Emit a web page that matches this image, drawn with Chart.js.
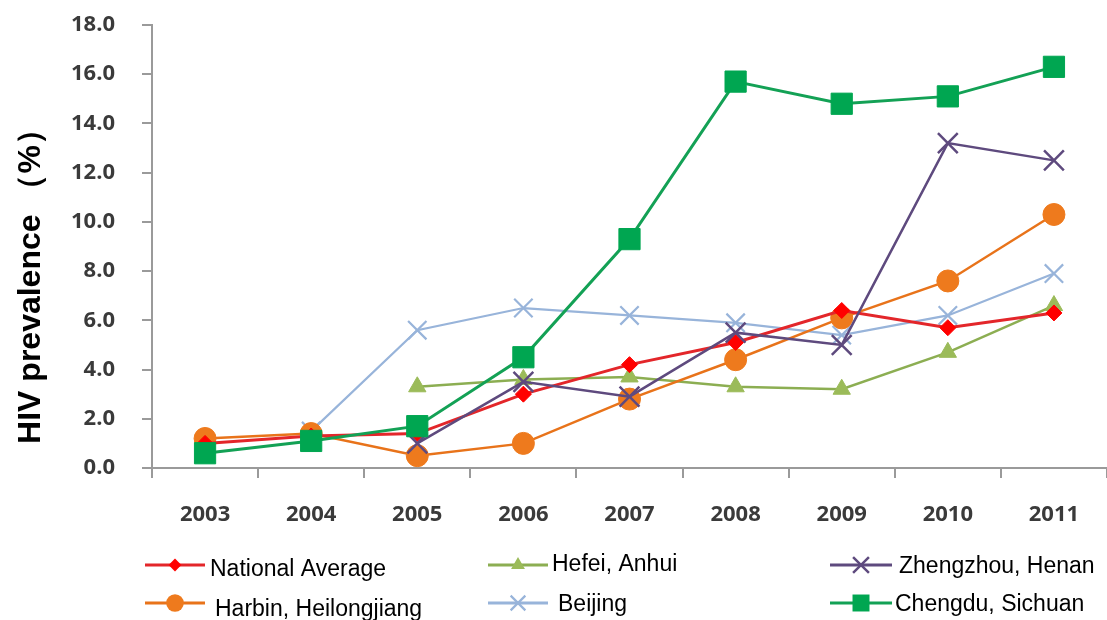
<!DOCTYPE html>
<html>
<head>
<meta charset="utf-8">
<script src="https://cdn.jsdelivr.net/npm/chart.js@4/dist/chart.umd.min.js"></script>
<style>
  html, body { margin: 0; padding: 0; background: #fff; }
  #wrap { width: 1107px; height: 620px; position: relative; }
</style>
</head>
<body>
<div id="wrap"><canvas id="grafico"></canvas></div>
<script>
// datos
var years = ['2003', '2004', '2005', '2006', '2007', '2008', '2009', '2010', '2011'];
var seriesNames = ['National Average', 'Harbin, Heilongjiang', 'Hefei, Anhui', 'Beijing', 'Zhengzhou, Henan', 'Chengdu, Sichuan'];
var nationalAverage = [1.0, 1.3, 1.4, 3.0, 4.2, 5.1, 6.4, 5.7, 6.3];
var harbin = [1.2, 1.4, 0.5, 1.0, 2.8, 4.4, 6.1, 7.6, 10.3];
var hefei = [null, null, 3.3, 3.6, 3.7, 3.3, 3.2, 4.7, 6.6];
var beijing = [null, 1.5, 5.6, 6.5, 6.2, 5.9, 5.4, 6.2, 7.9];
var zhengzhou = [null, null, 1.0, 3.5, 2.9, 5.5, 5.0, 13.2, 12.5];
var chengdu = [0.6, 1.1, 1.7, 4.5, 9.3, 15.7, 14.8, 15.1, 16.3];
var yTicks = [0, 2, 4, 6, 8, 10, 12, 14, 16, 18];

// estilos de cada serie
var estilos = [
    { line: '#E3262A', fill: '#FF0000', shape: 'diamond', r: 8, lw: 3 },
    { line: '#E8731A', fill: '#EE7A1D', shape: 'circle', r: 11, lw: 2.5 },
    { line: '#8CAE52', fill: '#9BBB59', shape: 'triangle', r: 10, lw: 2.5 },
    { line: '#98B4DA', fill: '#98B4DA', shape: 'x', r: 13, lw: 2.2 },
    { line: '#5E4A7E', fill: '#5E4A7E', shape: 'x', r: 14, lw: 2.5 },
    { line: '#13A155', fill: '#00A651', shape: 'square', r: 15, lw: 3 }
];
var pointStyles = { diamond: 'rectRot', circle: 'circle', triangle: 'triangle', x: 'crossRot', square: 'rect' };
var valores = [nationalAverage, harbin, hefei, beijing, zhengzhou, chengdu];
var ordenDibujo = [2, 3, 4, 5, 1, 0];

// posiciones de la leyenda (dos filas, tres columnas)
var leyenda = [
    { x0: 145, x1: 205, y: 565, tx: 210, ty: 570 },
    { x0: 145, x1: 205, y: 603, tx: 215, ty: 610 },
    { x0: 488, x1: 548, y: 565, tx: 552, ty: 565 },
    { x0: 488, x1: 548, y: 603, tx: 558, ty: 605 },
    { x0: 830, x1: 892, y: 565, tx: 899, ty: 567 },
    { x0: 830, x1: 892, y: 603, tx: 895, ty: 605 }
];

function dibujarMarcador(ctx, shape, x, y, r, color, lw) {
    ctx.save();
    ctx.fillStyle = color;
    ctx.strokeStyle = color;
    ctx.lineWidth = lw;
    ctx.beginPath();
    if (shape === 'circle') {
        ctx.arc(x, y, r, 0, Math.PI * 2);
        ctx.fill();
    } else if (shape === 'diamond') {
        ctx.moveTo(x, y - r); ctx.lineTo(x + r, y); ctx.lineTo(x, y + r); ctx.lineTo(x - r, y);
        ctx.closePath(); ctx.fill();
    } else if (shape === 'triangle') {
        ctx.moveTo(x, y - r); ctx.lineTo(x + r * 0.866, y + r * 0.5); ctx.lineTo(x - r * 0.866, y + r * 0.5);
        ctx.closePath(); ctx.fill();
    } else if (shape === 'square') {
        var s = r * 0.707;
        ctx.rect(x - s, y - s, 2 * s, 2 * s); ctx.fill();
    } else if (shape === 'x') {
        var d = r * 0.707;
        ctx.moveTo(x - d, y - d); ctx.lineTo(x + d, y + d);
        ctx.moveTo(x + d, y - d); ctx.lineTo(x - d, y + d);
        ctx.stroke();
    }
    ctx.restore();
}

var leyendaPlugin = {
    id: 'leyendaPropia',
    afterDraw: function (chart) {
        var ctx = chart.ctx;
        ctx.save();
        for (var i = 0; i < seriesNames.length; i++) {
            var p = leyenda[i];
            var e = estilos[i];
            ctx.strokeStyle = e.line;
            ctx.lineWidth = 3;
            ctx.beginPath();
            ctx.moveTo(p.x0, p.y);
            ctx.lineTo(p.x1, p.y);
            ctx.stroke();
            dibujarMarcador(ctx, e.shape, (p.x0 + p.x1) / 2, p.y, e.r * 0.8, e.fill, e.lw);
            ctx.fillStyle = '#000';
            ctx.font = '23px "Liberation Sans", Arial, sans-serif';
            ctx.textBaseline = 'middle';
            ctx.textAlign = 'left';
            ctx.fillText(seriesNames[i], p.tx, p.ty);
        }
        ctx.restore();
    }
};

var datasets = [];
for (var i = 0; i < seriesNames.length; i++) {
    var e = estilos[i];
    datasets.push({
        label: seriesNames[i],
        data: valores[i],
        borderColor: e.line,
        borderWidth: e.lw,
        backgroundColor: e.fill,
        pointStyle: pointStyles[e.shape],
        pointRadius: e.r,
        pointHoverRadius: e.r,
        pointBackgroundColor: e.fill,
        pointBorderColor: e.fill,
        pointBorderWidth: e.shape === 'x' ? e.lw : 1,
        tension: 0,
        spanGaps: false,
        order: ordenDibujo[i]
    });
}

var tickFont = { family: '"Open Sans", sans-serif', size: 22, weight: 'bold' };

new Chart(document.getElementById('grafico').getContext('2d'), {
    type: 'line',
    data: { labels: years, datasets: datasets },
    plugins: [leyendaPlugin],
    options: {
        responsive: true,
        maintainAspectRatio: false,
        animation: false,
        layout: { autoPadding: false, padding: { left: 12, top: 25, right: 0, bottom: 92 } },
        plugins: {
            legend: { display: false },
            tooltip: { enabled: false }
        },
        scales: {
            x: {
                type: 'category',
                offset: true,
                afterFit: function (axis) {
                    axis.height = 60;
                    axis.paddingLeft = 0;
                    axis.paddingRight = 0;
                },
                grid: { offset: true, drawOnChartArea: false, drawTicks: true, tickLength: 10, color: '#9a9a9a', lineWidth: 2 },
                border: { color: '#9a9a9a', width: 2 },
                ticks: { color: '#3a3a3a', font: tickFont, padding: 24, maxRotation: 0 }
            },
            y: {
                min: 0,
                max: 18,
                afterFit: function (axis) {
                    axis.width = 140;
                    axis.paddingTop = 0;
                    axis.paddingBottom = 0;
                },
                afterBuildTicks: function (axis) {
                    axis.ticks = yTicks.map(function (v) { return { value: v }; });
                },
                grid: { drawOnChartArea: false, drawTicks: true, tickLength: 10, color: '#9a9a9a', lineWidth: 2 },
                border: { color: '#9a9a9a', width: 2 },
                ticks: {
                    color: '#3a3a3a',
                    font: tickFont,
                    padding: 27,
                    callback: function (v) { return Number(v).toFixed(1); }
                },
                title: {
                    display: true,
                    text: 'HIV prevalence （%）\u3000\u3000',
                    color: '#000',
                    font: { family: '"Liberation Sans", Arial, sans-serif', size: 32, weight: 'bold' },
                    padding: { top: 0, bottom: 10 }
                }
            }
        }
    }
});
</script>
</body>
</html>
